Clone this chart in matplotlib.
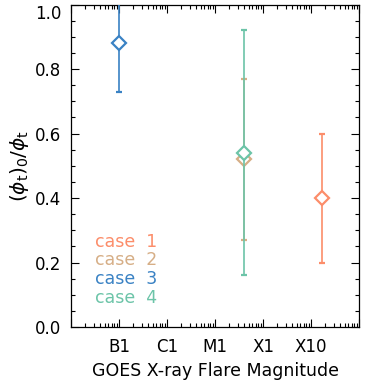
import matplotlib
matplotlib.use("Agg")
import matplotlib.pyplot as plt
from matplotlib.ticker import LogLocator, MultipleLocator, FixedLocator, NullFormatter
from matplotlib.transforms import ScaledTranslation

plt.rcParams['font.family'] = ['DejaVu Sans']
plt.rcParams['mathtext.fontset'] = 'dejavusans'

# GOES class positions (W/m^2) and labels
tick_vals = [1e-7, 1e-6, 1e-5, 1e-4, 1e-3]
tick_labels = ['B1', 'C1', 'M1', 'X1', 'X10']

# cases: flare peak flux, ratio, error
cases = ['case 1', 'case 2', 'case 3', 'case 4']
flux = [1.7e-3, 4.0e-5, 1.0e-7, 4.0e-5]
ratio = [0.40, 0.52, 0.88, 0.54]
err = [0.20, 0.25, 0.15, 0.38]
colors = ['#fc8d6a', '#d6ae86', '#3a82c4', '#6cc4a8']

fig = plt.figure(figsize=(3.66, 3.82), dpi=100)
ax = fig.add_axes([0.194, 0.144, 0.787, 0.844])

# draw case 3, 2, 1 first, then 4 on top
for i in [2, 1, 0, 3]:
    ax.errorbar(flux[i], ratio[i], yerr=err[i], fmt='D', mfc='white', mec=colors[i],
                ecolor=colors[i], color=colors[i], ms=7, mew=1.6, elinewidth=1.2,
                capsize=2, capthick=1.0, clip_on=True, zorder=3 + i)

ax.set_xscale('log')
ax.set_xlim(1e-8, 1e-2)
ax.set_ylim(0, 1.0)

ax.xaxis.set_major_locator(FixedLocator([1e-8] + tick_vals + [1e-2]))
ax.set_xticklabels([''] + tick_labels + [''])
ax.xaxis.set_minor_locator(LogLocator(base=10, subs=range(2, 10), numticks=20))
ax.xaxis.set_minor_formatter(NullFormatter())
ax.yaxis.set_major_locator(MultipleLocator(0.2))
ax.yaxis.set_minor_locator(MultipleLocator(0.05))
ax.yaxis.set_major_formatter(plt.FormatStrFormatter('%.1f'))

ax.tick_params(which='both', direction='in', top=True, right=True, labelsize=12, width=0.8)
ax.tick_params(which='major', length=6)
ax.tick_params(which='minor', length=3)
ax.tick_params(axis='x', pad=8)
ax.tick_params(axis='y', pad=7)
for s in ax.spines.values():
    s.set_linewidth(0.9)

ax.set_xlabel('GOES X-ray Flare Magnitude', fontsize=12.5, labelpad=4)
ax.set_ylabel(r'$(\phi_{\rm t})_0/\phi_{\rm t}$', fontsize=14.5, labelpad=3)

# keep the top y label inside the figure
fig.canvas.draw()
for lab in ax.get_yticklabels():
    if lab.get_text() == '1.0':
        lab.set_transform(lab.get_transform() + ScaledTranslation(0, -7 / 100, fig.dpi_scale_trans))

for i, name in enumerate(cases):
    ax.text(0.085, 0.265 - i * 0.058, name.replace(' ', '  '), color=colors[i],
            fontsize=12.5, transform=ax.transAxes, va='center', ha='left')

fig.savefig('out.png', dpi=100)
